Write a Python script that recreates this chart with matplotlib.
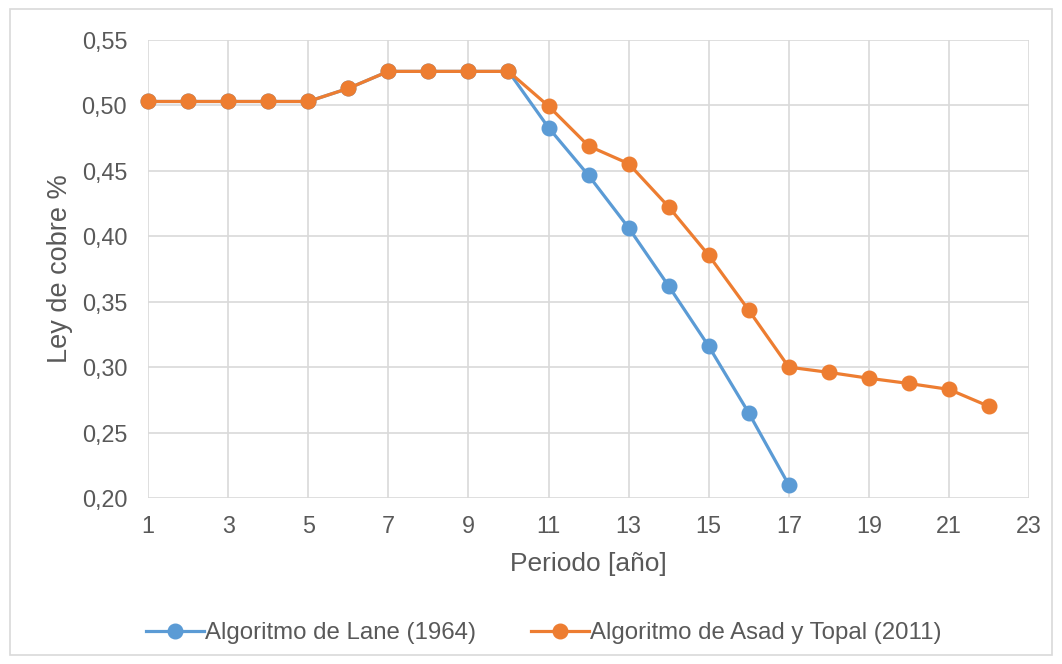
import matplotlib
matplotlib.use("Agg")
import matplotlib.pyplot as plt
from matplotlib.ticker import FuncFormatter, MultipleLocator, FixedLocator
from matplotlib.patches import Rectangle

# Periodos y ley de cobre para cada algoritmo
periodo_lane = list(range(1, 18))
ley_lane = [0.503, 0.503, 0.503, 0.503, 0.503, 0.513, 0.526, 0.526, 0.526, 0.526,
            0.483, 0.4465, 0.4065, 0.362, 0.316, 0.265, 0.210]

periodo_asad = list(range(1, 23))
ley_asad = [0.503, 0.503, 0.503, 0.503, 0.503, 0.513, 0.526, 0.526, 0.526, 0.526,
            0.4995, 0.469, 0.4555, 0.4225, 0.3855, 0.3435, 0.300, 0.296, 0.2915,
            0.2875, 0.283, 0.270]

ticks_x = list(range(1, 24, 2))

AZUL = '#5B9BD5'
NARANJA = '#ED7D31'
TEXTO = '#595959'
GRID = '#D9D9D9'

plt.rcParams['font.family'] = ['Liberation Sans', 'DejaVu Sans']

fig = plt.figure(figsize=(10.62, 6.64), dpi=100)
ax = fig.add_axes([0.1394, 0.25, 0.8296, 0.6898])

# marco exterior del grafico
fig.patches.append(Rectangle((0.009, 0.013), 0.982, 0.973, transform=fig.transFigure,
                             fill=False, edgecolor=GRID, linewidth=1.2))

ax.plot(periodo_lane, ley_lane, color=AZUL, linewidth=2.3, marker='o',
        markersize=10.5, label='Algoritmo de Lane (1964)', clip_on=False, zorder=3)
ax.plot(periodo_asad, ley_asad, color=NARANJA, linewidth=2.3, marker='o',
        markersize=10.5, label='Algoritmo de Asad y Topal (2011)', clip_on=False, zorder=4)

ax.set_xlim(1, 23)
ax.set_ylim(0.20, 0.55)
ax.xaxis.set_major_locator(FixedLocator(ticks_x))
ax.yaxis.set_major_locator(MultipleLocator(0.05))
ax.yaxis.set_major_formatter(FuncFormatter(lambda v, p: f'{v:.2f}'.replace('.', ',')))

ax.grid(True, color=GRID, linewidth=1.2)
ax.set_axisbelow(True)
for s in ax.spines.values():
    s.set_visible(False)
ax.tick_params(length=0, labelsize=16.8, colors=TEXTO)
ax.tick_params(axis='y', pad=15)
ax.tick_params(axis='x', pad=12)

ax.set_xlabel('Periodo [año]', fontsize=19, color=TEXTO, labelpad=10)
ax.set_ylabel('Ley de cobre %', fontsize=19.5, color=TEXTO, labelpad=6)

leg = fig.legend(loc='center', bbox_to_anchor=(0.512, 0.046), ncol=2, frameon=False,
                 fontsize=17.3, handlelength=2.4, handletextpad=0.05, columnspacing=2.3,
                 numpoints=1)
for t in leg.get_texts():
    t.set_color(TEXTO)

fig.savefig('out.png', dpi=100)
